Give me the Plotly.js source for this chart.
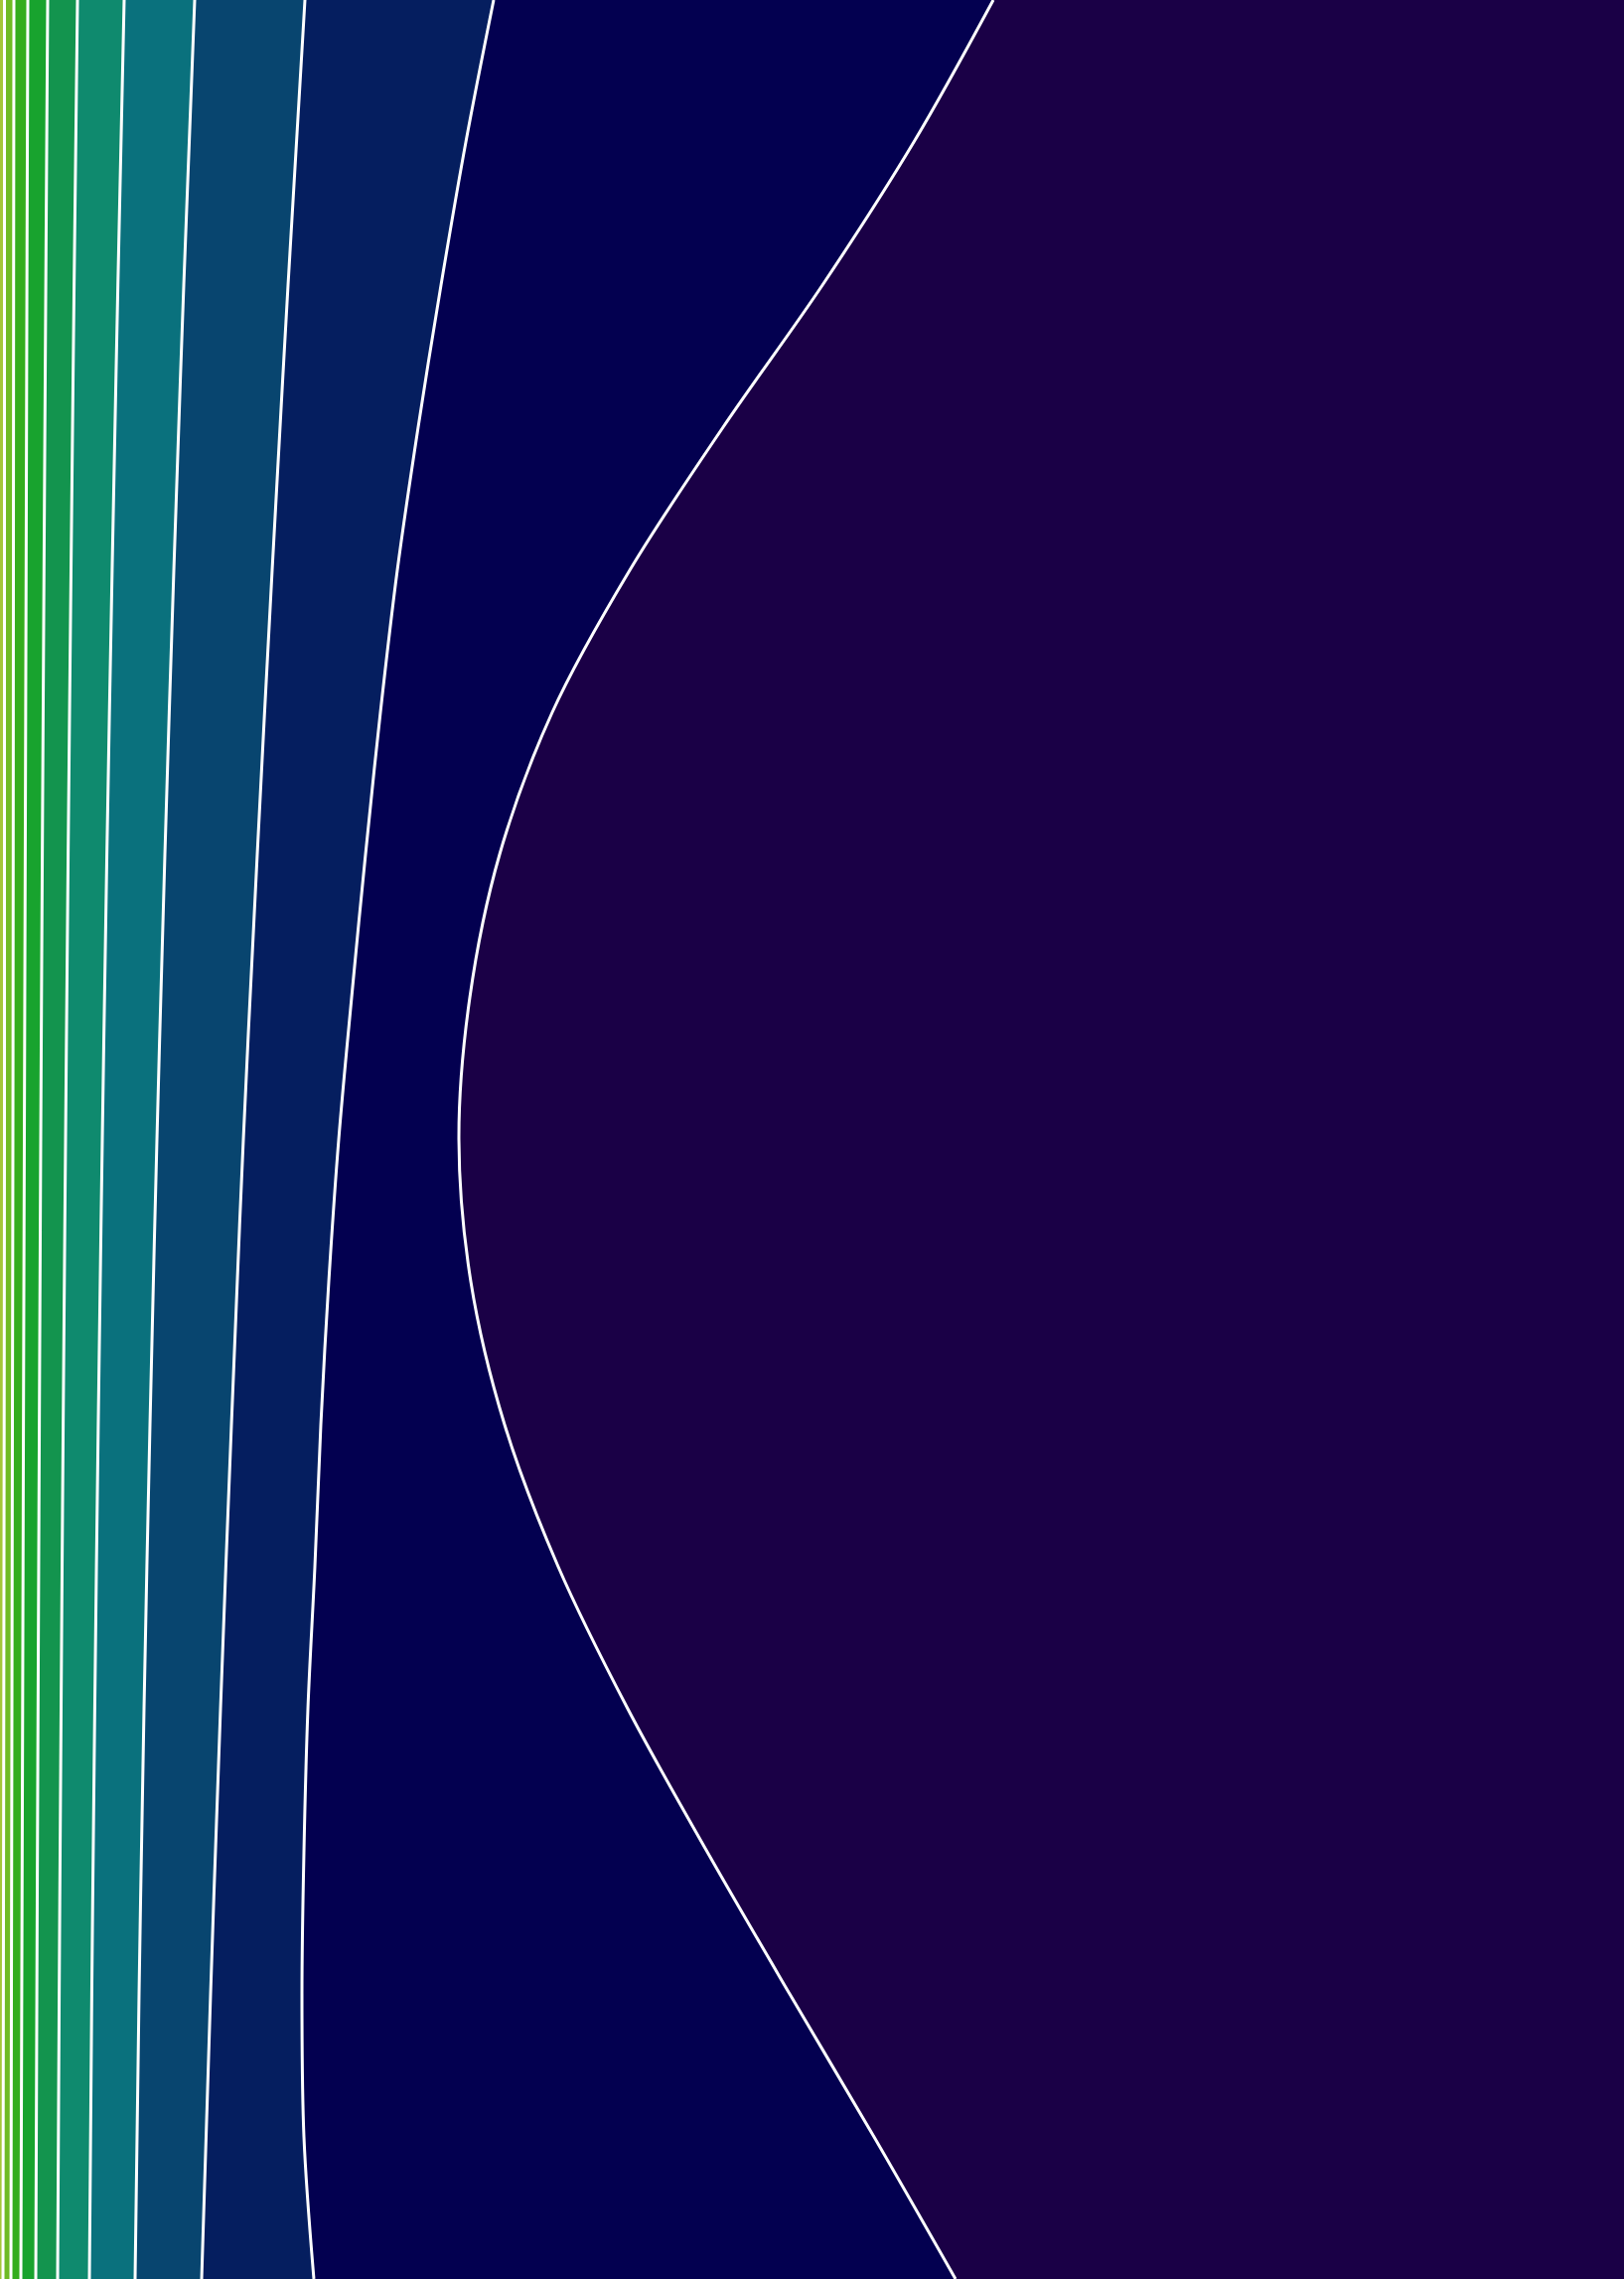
<!DOCTYPE html>
<html>
<head>
<meta charset="utf-8">
<script src="https://cdn.plot.ly/plotly-3.0.1.min.js"></script>
<style>
  html, body { margin: 0; padding: 0; background: #1a0046; }
  #chart { width: 1635px; height: 2294px; }
</style>
</head>
<body>
<div id="chart"></div>
<script>
// Rows (vertical positions, measured from the top) where the contour boundaries were read
const rowsCoarse = [0, 287, 574, 860, 1147, 1434, 1720, 2007, 2294];
const rowsFine = [0, 143, 287, 430, 574, 717, 860, 1004, 1147, 1290, 1434, 1577, 1720, 1864, 2007, 2151, 2294];

// Horizontal position of each contour boundary at those rows (level 10 = leftmost, level 1 = rightmost)
const level10 = [4.5, 4.5, 4.5, 4.5, 4.5, 4.2, 3.8, 3.4, 3];
const level9  = [14, 13.7, 13.5, 13.3, 13, 12.5, 12, 11.5, 11];
const level8  = [28, 27.1, 26.3, 25.4, 24.5, 23.6, 22.8, 21.9, 21];
const level7  = [48, 46.1, 44.3, 42.6, 41, 39.6, 38.3, 37.1, 36];
const level6  = [78, 74.6, 71.5, 68.6, 66, 63.6, 61.5, 59.6, 58];
const level5  = [125, 118.7, 112.9, 107.6, 103, 98.9, 95.4, 92.4, 90];
const level4  = [196, 185, 175, 166, 158, 151, 145, 140, 136];
const level3  = [307, 290, 274, 259, 245, 233, 222, 212, 203];
const level2  = [497, 469, 444, 421, 400, 383, 368, 354, 341, 331, 323, 317, 310, 306, 304, 306, 316];
const level1  = [1000, 920, 828, 728, 634, 556, 503, 473, 462, 474, 508, 562, 632, 712, 795, 880, 962];

// Band colours, from the band left of level 10 to the band left of level 1
const bandColors = ['#a5c639', '#6fbb24', '#34ad1e', '#18a32e', '#13944e', '#0f8a6e',
                    '#0a717d', '#08456f', '#051e5f', '#030050'];
const lowestBandColor = '#1a0046';

const boundaries = [
  {x: level10, y: rowsCoarse},
  {x: level9,  y: rowsCoarse},
  {x: level8,  y: rowsCoarse},
  {x: level7,  y: rowsCoarse},
  {x: level6,  y: rowsCoarse},
  {x: level5,  y: rowsCoarse},
  {x: level4,  y: rowsCoarse},
  {x: level3,  y: rowsCoarse},
  {x: level2,  y: rowsFine},
  {x: level1,  y: rowsFine}
];

const traces = boundaries.map((b, i) => ({
  type: 'scatter',
  mode: 'lines',
  x: b.x,
  y: b.y,
  line: {color: '#ffffff', width: 3, shape: 'spline', smoothing: 1},
  fill: i === 0 ? 'tozerox' : 'tonextx',
  fillcolor: bandColors[i],
  hoverinfo: 'skip',
  showlegend: false
}));

const layout = {
  width: 1635,
  height: 2294,
  margin: {l: 0, r: 0, t: 0, b: 0, pad: 0},
  paper_bgcolor: lowestBandColor,
  plot_bgcolor: lowestBandColor,
  showlegend: false,
  xaxis: {range: [0, 1635], visible: false, showgrid: false, zeroline: false, fixedrange: true},
  yaxis: {range: [2294, 0], visible: false, showgrid: false, zeroline: false, fixedrange: true}
};

Plotly.newPlot('chart', traces, layout, {displayModeBar: false, staticPlot: true});
</script>
</body>
</html>
